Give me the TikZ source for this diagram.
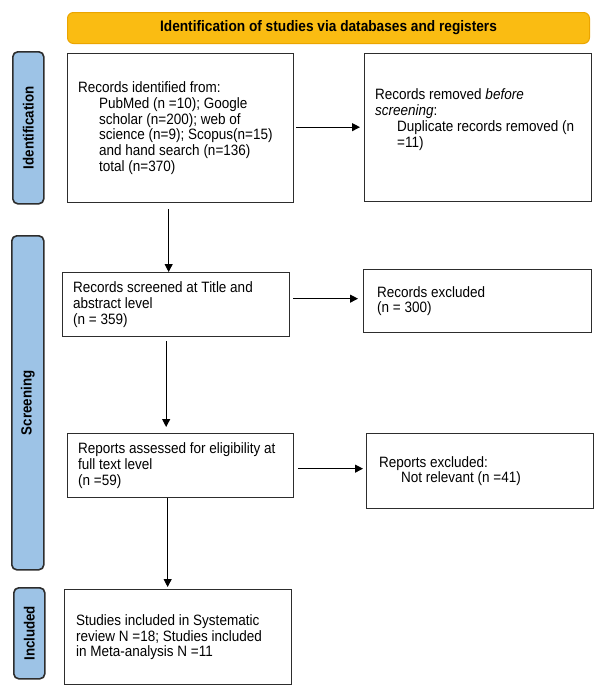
\documentclass[tikz,border=0pt]{standalone}
\usepackage{fontspec}
\setmainfont{Liberation Sans}[FakeStretch=0.9]
\usetikzlibrary{arrows.meta}
\definecolor{barblue}{RGB}{157,195,230}
\definecolor{hdryellow}{RGB}{250,188,18}
\definecolor{hdrborder}{RGB}{235,165,0}
\definecolor{linegray}{RGB}{45,45,45}
\begin{document}
\begin{tikzpicture}[x=1pt,y=-1pt,
  box/.style={draw=linegray, line width=1.3pt, anchor=north west, inner sep=0pt},
  txt/.style={anchor=west, align=left, inner sep=0pt, font=\fontsize{15}{15.7}\selectfont},
  bar/.style={draw=linegray, fill=barblue, line width=1.6pt, rounded corners=5pt, anchor=north west, inner sep=0pt},
  barlbl/.style={rotate=90, inner sep=0pt, font=\bfseries\fontsize{14.8}{16}\selectfont},
  arr/.style={draw=black, line width=1.1pt, -{Triangle[length=8pt,width=8pt]}}
]
\useasboundingbox (0,0) rectangle (605,694);
\fill[white] (0,0) rectangle (605,694);

% header
\node[draw=hdrborder, fill=hdryellow, rounded corners=6pt, line width=1pt, anchor=north west,
      minimum width=522pt, minimum height=31pt, inner sep=0pt,
      font=\bfseries\fontsize{15.2}{16}\selectfont] (hdr) at (67,12)
      {Identification of studies via databases and registers};

% side bars
\node[bar, minimum width=31pt, minimum height=152pt] (bid) at (12,51) {};
\node[barlbl] (lid) at (bid.center) {Identification};
\node[bar, minimum width=32pt, minimum height=334pt] (bsc) at (11,235) {};
\node[barlbl] (lsc) at (bsc.center) {Screening};
\node[bar, minimum width=31pt, minimum height=91pt] (bin) at (13,587) {};
\node[barlbl] (lin) at (bin.center) {Included};

% boxes
\node[box, minimum width=226pt, minimum height=149pt] (b1) at (67,53) {};
\node[box, minimum width=227pt, minimum height=148pt] (b2) at (364,53) {};
\node[box, minimum width=227pt, minimum height=64pt] (b3) at (62,272) {};
\node[box, minimum width=228pt, minimum height=63pt] (b4) at (363,269) {};
\node[box, minimum width=226pt, minimum height=64pt] (b5) at (67,433) {};
\node[box, minimum width=227pt, minimum height=75pt] (b6) at (366,433) {};
\node[box, minimum width=227pt, minimum height=95pt] (b7) at (64,589) {};

% texts
\node[txt] (t1) at ([xshift=11pt]b1.west) {Records identified from:\\
\hspace*{21pt}PubMed (n =10); Google\\
\hspace*{21pt}scholar (n=200); web of\\
\hspace*{21pt}science (n=9); Scopus(n=15)\\
\hspace*{21pt}and hand search (n=136)\\
\hspace*{21pt}total (n=370)};
\node[txt] (t2) at ([xshift=11pt,yshift=8pt]b2.west) {Records removed \textit{before}\\
\textit{screening}:\\
\hspace*{22pt}Duplicate records removed (n\\
\hspace*{22pt}=11)};
\node[txt] (t3) at ([xshift=11pt]b3.west) {Records screened at Title and\\abstract level\\(n = 359)};
\node[txt] (t4) at ([xshift=14pt]b4.west) {Records excluded\\(n = 300)};
\node[txt] (t5) at ([xshift=11pt]b5.west) {Reports assessed for eligibility at\\full text level\\(n =59)};
\node[txt] (t6) at ([xshift=13pt]b6.west) {Reports excluded:\\\hspace*{22pt}Not relevant (n =41)};
\node[txt] (t7) at ([xshift=12pt]b7.west) {Studies included in Systematic\\review N =18; Studies included\\in Meta-analysis N =11};

% arrows
\draw[arr, shorten <=2pt, shorten >=4pt] ([yshift=1pt]b1.east) -- ([yshift=1pt]b1.east -| b2.west);
\draw[arr, shorten <=6pt] ([xshift=-12pt]b1.south) -- ([xshift=-12pt]b1.south |- b3.north);
\draw[arr, shorten <=3pt, shorten >=5pt] ([yshift=6pt]b3.east) -- ([yshift=6pt]b3.east -| b4.west);
\draw[arr, shorten <=4pt, shorten >=6pt] ([xshift=-10pt]b3.south) -- ([xshift=-10pt]b3.south |- b5.north);
\draw[arr, shorten <=4pt, shorten >=3pt] ([yshift=-3pt]b5.east) -- ([yshift=-3pt]b5.east -| b6.west);
\draw[arr, shorten >=2pt] ([xshift=-13pt]b5.south) -- ([xshift=-13pt]b5.south |- b7.north);
\end{tikzpicture}
\end{document}
